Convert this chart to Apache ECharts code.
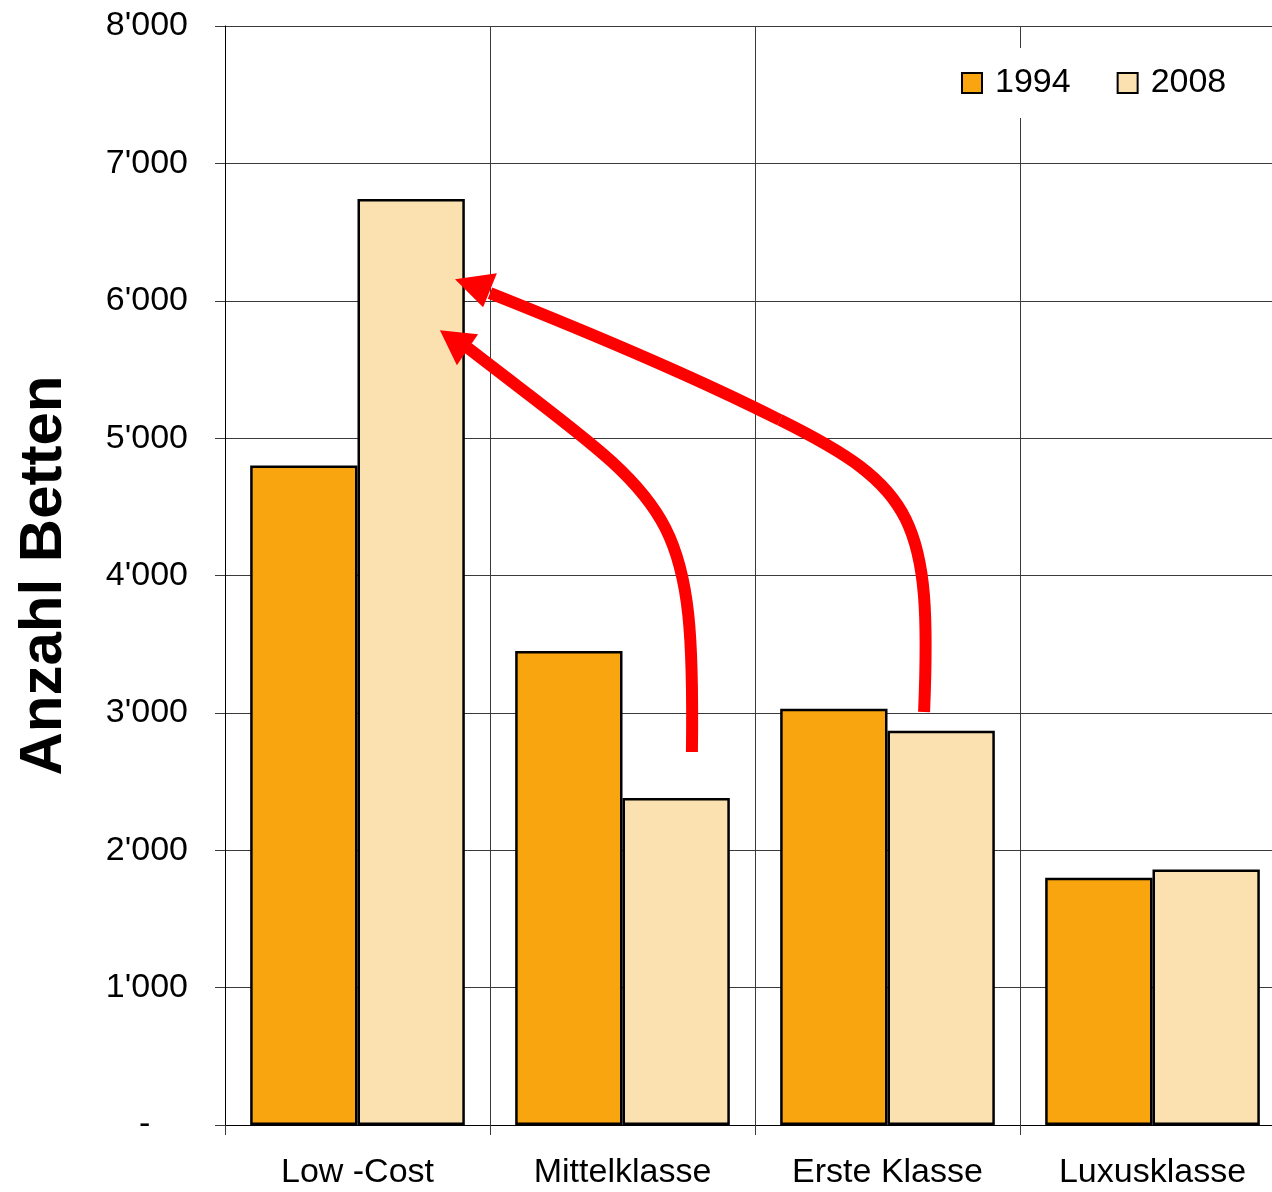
<!DOCTYPE html>
<html>
<head>
<meta charset="utf-8">
<script src="https://cdn.jsdelivr.net/npm/echarts@6/dist/echarts.min.js"></script>
<style>
    html, body { margin: 0; padding: 0; background: #fff; }
    #chart { width: 1272px; height: 1192px; }
</style>
</head>
<body>
<div id="chart"></div>
<script>
    // Daten
    const categories = ['Low -Cost', 'Mittelklasse', 'Erste Klasse', 'Luxusklasse']
    const beds1994 = [4800, 3450, 3030, 1800]
    const beds2008 = [6740, 2380, 2870, 1860]
    const yTicks = [0, 1000, 2000, 3000, 4000, 5000, 6000, 7000, 8000]

    // Pfeile in Datenkoordinaten [Kategorie-Position, Wert]: Start, dann je 3 Punkte pro Bezier-Segment
    const arrowMittel = [[1.262, 2715], [1.274, 4550], [1.191, 4499], [0.417, 5656]]
    const arrowMittelHead = [[0.311, 5786], [0.455, 5757], [0.375, 5531]]
    const arrowErste = [[2.138, 3006], [2.168, 4404], [2.104, 4644], [1.594, 5132],
        [1.258, 5460], [0.851, 5787], [0.500, 6056]]
    const arrowErsteHead = [[0.368, 6157], [0.526, 6201], [0.474, 5953]]

    const font = '"Liberation Sans", Arial, sans-serif'
    const lineColor = '#3a3a3a'

    const chart = echarts.init(document.getElementById('chart'))

    const fmt = (v) => {
        if (v === 0) return '-    '
        return String(v).replace(/\B(?=(\d{3})+(?!\d))/g, "'")
    }

    const barStyle = (color) => ({ color: color, borderColor: '#000', borderWidth: 2.5 })

    const options = {
        animation: false,
        backgroundColor: '#fff',
        textStyle: { fontFamily: font },
        grid: {
            left: 225, top: 26, right: -13, bottom: 67,
            containLabel: false,
            outerBoundsMode: 'none'
        },
        legend: {
            data: ['1994', '2008'],
            left: 947, top: 48,
            padding: [18, 22, 18, 14],
            backgroundColor: '#fff',
            itemWidth: 20, itemHeight: 20,
            itemGap: 46,
            icon: 'rect',
            textStyle: { fontSize: 34, color: '#000', fontFamily: font, padding: [0, 0, 0, 8] }
        },
        xAxis: {
            type: 'category',
            data: categories,
            axisLine: { lineStyle: { color: '#000', width: 1 } },
            axisTick: { show: true, length: 10, lineStyle: { color: lineColor } },
            splitLine: { show: true, lineStyle: { color: lineColor, width: 1 } },
            axisLabel: { fontSize: 34, color: '#000', margin: 31, fontFamily: font }
        },
        yAxis: {
            type: 'value',
            min: 0, max: yTicks[yTicks.length - 1], interval: yTicks[1] - yTicks[0],
            name: 'Anzahl Betten',
            nameLocation: 'middle',
            nameGap: 151,
            nameRotate: 90,
            nameTextStyle: { fontSize: 60, fontWeight: 'bold', color: '#000', fontFamily: font },
            axisLine: { show: true, lineStyle: { color: '#000', width: 1 } },
            axisTick: { show: true, length: 10, lineStyle: { color: lineColor } },
            splitLine: { show: true, lineStyle: { color: lineColor, width: 1 } },
            axisLabel: { fontSize: 34, color: '#000', margin: 37, fontFamily: font, formatter: fmt }
        },
        series: [
            {
                name: '1994', type: 'bar', data: beds1994,
                barGap: 0, barCategoryGap: '19%',
                itemStyle: barStyle('#f9a510')
            },
            {
                name: '2008', type: 'bar', data: beds2008,
                itemStyle: barStyle('#fbe0b0')
            }
        ]
    }
    chart.setOption(options)

    // Pfeile zeichnen
    const toPixel = (p) => {
        const x0 = chart.convertToPixel({ xAxisIndex: 0 }, 0)
        const x1 = chart.convertToPixel({ xAxisIndex: 0 }, 1)
        return [x0 + p[0] * (x1 - x0), chart.convertToPixel({ yAxisIndex: 0 }, p[1])]
    }
    const arrowGraphics = (line, head) => {
        const px = line.map(toPixel)
        const items = []
        for (let i = 1; i + 2 < px.length; i += 3) {
            const s = px[i - 1], c1 = px[i], c2 = px[i + 1], e = px[i + 2]
            items.push({
                type: 'bezierCurve', z: 100,
                shape: { x1: s[0], y1: s[1], cpx1: c1[0], cpy1: c1[1], cpx2: c2[0], cpy2: c2[1], x2: e[0], y2: e[1] },
                style: { stroke: '#ff0000', lineWidth: 12, fill: null, lineCap: 'butt' }
            })
        }
        items.push({
            type: 'polygon', z: 100,
            shape: { points: head.map(toPixel) },
            style: { fill: '#ff0000' }
        })
        return items
    }
    chart.setOption({
        graphic: [].concat(arrowGraphics(arrowMittel, arrowMittelHead), arrowGraphics(arrowErste, arrowErsteHead))
    })
</script>
</body>
</html>
